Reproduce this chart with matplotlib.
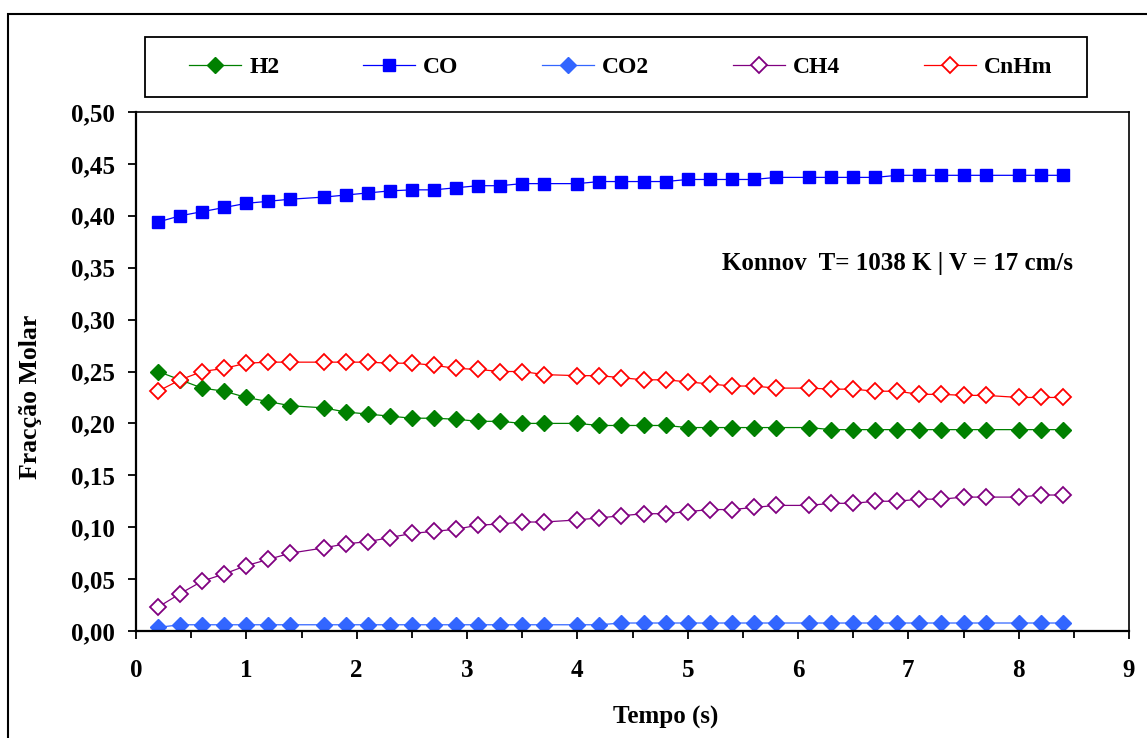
import numpy as np
import matplotlib
matplotlib.use("Agg")
import matplotlib.pyplot as plt
from matplotlib.patches import Rectangle
from matplotlib.ticker import MultipleLocator

plt.rcParams["font.family"] = ["Liberation Serif", "DejaVu Serif"]
plt.rcParams["font.weight"] = "bold"
plt.rcParams["axes.labelweight"] = "bold"

# tempo (s)
t = [0.2, 0.4, 0.6, 0.8, 1.0, 1.2, 1.4, 1.7, 1.9, 2.1, 2.3, 2.5, 2.7, 2.9,
     3.1, 3.3, 3.5, 3.7, 4.0, 4.2, 4.4, 4.6, 4.8, 5.0, 5.2, 5.4, 5.6, 5.8,
     6.1, 6.3, 6.5, 6.7, 6.9, 7.1, 7.3, 7.5, 7.7, 8.0, 8.2, 8.4]

h2 = [0.250, 0.242, 0.234, 0.231, 0.225, 0.221, 0.217, 0.215, 0.211, 0.209,
      0.207, 0.205, 0.205, 0.204, 0.202, 0.202, 0.200, 0.200, 0.200, 0.198,
      0.198, 0.198, 0.198, 0.196, 0.196, 0.196, 0.196, 0.196, 0.196, 0.194,
      0.194, 0.194, 0.194, 0.194, 0.194, 0.194, 0.194, 0.194, 0.194, 0.194]
co = [0.394, 0.400, 0.404, 0.408, 0.412, 0.414, 0.416, 0.418, 0.420, 0.422,
      0.424, 0.425, 0.425, 0.427, 0.429, 0.429, 0.431, 0.431, 0.431, 0.433,
      0.433, 0.433, 0.433, 0.435, 0.435, 0.435, 0.435, 0.437, 0.437, 0.437,
      0.437, 0.437, 0.439, 0.439, 0.439, 0.439, 0.439, 0.439, 0.439, 0.439]
co2 = [0.0035, 0.006, 0.006, 0.006, 0.006, 0.006, 0.006, 0.006, 0.006, 0.006,
       0.006, 0.006, 0.006, 0.006, 0.006, 0.006, 0.006, 0.006, 0.006, 0.006,
       0.0077, 0.0077, 0.0077, 0.0077, 0.0077, 0.0077, 0.0077, 0.0077, 0.0077, 0.0077,
       0.0077, 0.0077, 0.0077, 0.0077, 0.0077, 0.0077, 0.0077, 0.0077, 0.0077, 0.0077]
ch4 = [0.023, 0.036, 0.048, 0.055, 0.063, 0.069, 0.075, 0.080, 0.084, 0.086,
       0.090, 0.094, 0.096, 0.098, 0.102, 0.103, 0.105, 0.105, 0.107, 0.109,
       0.111, 0.113, 0.113, 0.115, 0.117, 0.117, 0.119, 0.121, 0.121, 0.123,
       0.123, 0.125, 0.125, 0.127, 0.127, 0.129, 0.129, 0.129, 0.131, 0.131]
cnhm = [0.231, 0.242, 0.250, 0.253, 0.258, 0.259, 0.259, 0.259, 0.259, 0.259,
        0.258, 0.258, 0.256, 0.253, 0.252, 0.250, 0.250, 0.247, 0.246, 0.246,
        0.244, 0.242, 0.242, 0.240, 0.238, 0.236, 0.236, 0.234, 0.234, 0.233,
        0.233, 0.231, 0.231, 0.228, 0.228, 0.227, 0.227, 0.225, 0.225, 0.225]

labels = ["H2", "CO", "CO2", "CH4", "CnHm"]
colors = ["#008000", "#0000FF", "#3366FF", "#800080", "#FF0000"]
yticks = [0.0, 0.05, 0.10, 0.15, 0.20, 0.25, 0.30, 0.35, 0.40, 0.45, 0.50]
ytick_labels = ["0,00", "0,05", "0,10", "0,15", "0,20", "0,25", "0,30",
                "0,35", "0,40", "0,45", "0,50"]
xticks = list(range(10))

W, H = 1147, 738
fig = plt.figure(figsize=(W / 100, H / 100), dpi=100)
ax = fig.add_axes([136 / W, 1 - 631 / H, 993 / W, 519 / H])

ax.plot(t, h2, color=colors[0], lw=0.9, marker="D", ms=8, label=labels[0])
ax.plot(t, co, color=colors[1], lw=0.9, marker="s", ms=9, label=labels[1])
ax.plot(t, co2, color=colors[2], lw=0.9, marker="D", ms=8, label=labels[2])
ax.plot(t, ch4, color=colors[3], lw=0.9, marker="D", ms=8, mfc="white",
        mew=1.3, label=labels[3])
ax.plot(t, cnhm, color=colors[4], lw=0.9, marker="D", ms=8, mfc="white",
        mew=1.3, label=labels[4])

ax.set_xlim(0, 9)
ax.set_ylim(0, 0.5)
ax.set_xticks(xticks)
ax.xaxis.set_minor_locator(MultipleLocator(0.5))
ax.set_yticks(yticks)
ax.set_yticklabels(ytick_labels)
ax.tick_params(axis="both", which="both", direction="out", labelsize=18, width=1.3)
ax.tick_params(axis="x", which="major", length=6, pad=14)
ax.tick_params(axis="x", which="minor", length=5)
ax.tick_params(axis="y", which="major", length=6, pad=9)
for s in ax.spines.values():
    s.set_linewidth(1.2)
ax.spines["left"].set_linewidth(1.6)
ax.spines["bottom"].set_linewidth(1.6)

ax.set_xlabel("Tempo (s)", fontsize=18)
ax.xaxis.set_label_coords(0.533, -0.145)
ax.set_ylabel("Fracção Molar", fontsize=18.5)
ax.yaxis.set_label_coords(-0.095, 0.451)

ax.text(0.590, 0.709, "Konnov  T= 1038 K | V = 17 cm/s", transform=ax.transAxes,
        fontsize=18, ha="left", va="center")

# legend contents without frame, frame drawn as its own box
leg = fig.legend(loc="center", bbox_to_anchor=(621 / W, 1 - 67 / H), ncol=5,
                 fontsize=17, frameon=False, handlelength=2.2,
                 handletextpad=0.34, columnspacing=3.55, borderpad=0,
                 borderaxespad=0, markerscale=1.0)
fig.patches.append(Rectangle((145 / W, 1 - 97 / H), 942 / W, 60 / H,
                             transform=fig.transFigure, fill=False,
                             edgecolor="black", lw=1.3))

# outer chart border (cut by the image edge on right and bottom)
fig.patches.append(Rectangle((8 / W, -0.1), 1.2, 1 - 14 / H + 0.1,
                             transform=fig.transFigure, fill=False,
                             edgecolor="black", lw=1.5, clip_on=False))

fig.savefig("out.png", dpi=100)
